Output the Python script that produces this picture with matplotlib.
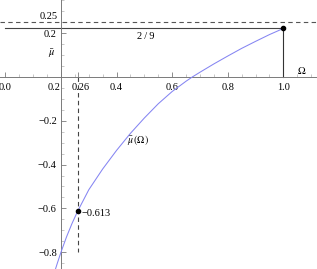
import matplotlib
matplotlib.use("Agg")
import matplotlib.pyplot as plt
import matplotlib.transforms as mtransforms
from matplotlib.ticker import MultipleLocator

# ---- data ----
omega = [0.18, 0.187, 0.20, 0.22, 0.24, 0.26, 0.30, 0.35, 0.40, 0.45, 0.50,
         0.55, 0.60, 0.65, 0.672, 0.70, 0.75, 0.80, 0.85, 0.90, 0.95, 1.0]
mu = [-0.878, -0.85, -0.80, -0.73, -0.668, -0.613, -0.515, -0.42, -0.335,
      -0.257, -0.187, -0.122, -0.066, -0.019, 0.0, 0.022, 0.060, 0.096,
      0.131, 0.163, 0.194, 0.222]

x_ticks = [0.0, 0.2, 0.26, 0.4, 0.6, 0.8, 1.0]
x_tick_labels = ["0.0", "0.2", "0.26", "0.4", "0.6", "0.8", "1.0"]
y_ticks = [-0.8, -0.6, -0.4, -0.2, 0.2]
y_tick_labels = ["\u22120.8", "\u22120.6", "\u22120.4", "\u22120.2", "0.2"]

mu_max = 0.25          # dashed asymptote
mu_end = 2 / 9         # value at Omega = 1
omega_min = 0.26       # marked point
mu_min = -0.613

plt.rcParams["font.family"] = ["Liberation Serif", "DejaVu Serif"]
plt.rcParams["mathtext.fontset"] = "stix"

fig = plt.figure(figsize=(3.17, 2.69), dpi=100)
ax = fig.add_axes([0, 0, 1, 1])
ax.set_xlim(-0.0194, 1.121)
ax.set_ylim(-0.877, 0.352)

axis_col = "#7a7a7a"
for s in ("top", "right"):
    ax.spines[s].set_visible(False)
ax.spines["left"].set_position(("data", 0.2))
ax.spines["bottom"].set_position(("data", 0.0))
for s in ("left", "bottom"):
    ax.spines[s].set_color(axis_col)
    ax.spines[s].set_linewidth(0.7)

fs = 7.5
ax.set_xticks(x_ticks)
ax.set_xticklabels(x_tick_labels, fontsize=fs)
ax.set_yticks(y_ticks)
ax.set_yticklabels(y_tick_labels, fontsize=fs)
ax.xaxis.set_minor_locator(MultipleLocator(0.05))
ax.yaxis.set_minor_locator(MultipleLocator(0.05))
ax.tick_params(axis="x", which="major", direction="in", length=3.5,
               width=0.6, color=axis_col, pad=4)
ax.tick_params(axis="x", which="minor", direction="in", length=2,
               width=0.5, color="#b0b0b0")
ax.tick_params(axis="y", which="major", direction="in", length=3.5,
               width=0.6, color=axis_col, pad=3)
ax.tick_params(axis="y", which="minor", direction="in", length=2,
               width=0.5, color="#b0b0b0")
for lab in ax.get_xticklabels():
    if lab.get_text() == "0.2":
        lab.set_ha("right")
    if lab.get_text() == "0.26":
        lab.set_transform(lab.get_transform() +
                          mtransforms.ScaledTranslation(3 / 100, 0, fig.dpi_scale_trans))

# curve
ax.plot(omega, mu, color="#8585f2", lw=0.75, zorder=3)

# reference lines
ax.axhline(mu_max, color="#555555", lw=0.8, ls=(0, (4, 3)), zorder=2)
ax.plot([0.0, 1.0], [mu_end, mu_end], color="#444444", lw=0.8, zorder=2)
ax.plot([1.0, 1.0], [0.0, mu_end], color="#333333", lw=0.8, zorder=2)
ax.plot([omega_min, omega_min], [0.0, -0.80], color="#444444", lw=0.8,
        ls=(0, (4, 3)), zorder=2)

# points
ax.plot([1.0, omega_min], [mu_end, mu_min], "o", color="black", ms=3.0, zorder=4)

# annotations
ax.text(0.19, 0.256, "0.25", fontsize=fs, ha="right", va="bottom")
ax.text(0.506, 0.185, "2\u2009/\u20099", fontsize=fs, ha="center", va="center")
ax.text(0.168, 0.107, r"$\bar{\mu}$", fontsize=fs, ha="center", va="center")
ax.text(1.067, 0.004, r"$\Omega$", fontsize=fs, ha="center", va="bottom")
ax.text(0.477, -0.288, r"$\bar{\mu}\,(\Omega)$", fontsize=fs - 0.5,
        ha="center", va="center")
ax.text(0.275, -0.622, "\u22120.613", fontsize=fs, ha="left", va="center")

fig.savefig("out.png", dpi=100)
